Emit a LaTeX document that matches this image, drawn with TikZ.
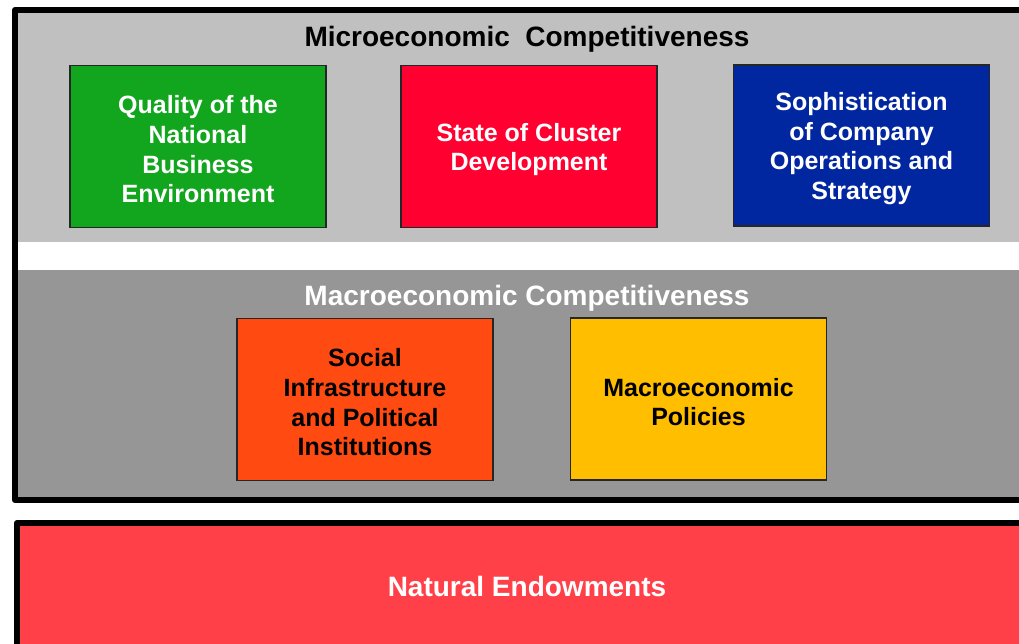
\documentclass[tikz,border=0pt]{standalone}
\usepackage{fontspec}
\setmainfont{Liberation Sans}
\definecolor{lgray}{HTML}{C0C0C0}
\definecolor{dgray}{HTML}{969696}
\definecolor{cgreen}{HTML}{12A61E}
\definecolor{cred}{HTML}{FF0030}
\definecolor{cblue}{HTML}{0026A0}
\definecolor{corange}{HTML}{FF4A12}
\definecolor{cyellow}{HTML}{FFBE00}
\definecolor{cbottom}{HTML}{FF4048}
\tikzset{
  factor/.style={draw=black!85, line width=1.5pt, minimum width=256pt, minimum height=162pt, inner sep=0pt},
  ftext/.style={align=center, inner sep=0pt, yshift=-3pt, font=\fontsize{25}{29.7}\selectfont\bfseries},
  title/.style={font=\fontsize{28}{32}\selectfont\bfseries, inner sep=0pt},
}
\begin{document}
\begin{tikzpicture}[x=1pt,y=-1pt]
\useasboundingbox (0,0) rectangle (1019,643);
\begin{scope}
\clip (0,0) rectangle (1019,643);
% outer frame
\path[fill=lgray] (15,10) rectangle (1040,242);
\path[fill=white] (15,242) rectangle (1040,270);
\path[fill=dgray] (15,270) rectangle (1040,500);
\draw[line width=6pt, line join=round] (15,10) rectangle (1040,500);
% bottom band
\draw[line width=6pt, line join=round, fill=cbottom] (17,523) rectangle (1040,670);
\end{scope}
\node[title] (micro) at (527,39) {Microeconomic\ \ Competitiveness};
\node[title, text=white] (macro) at (527,298) {Macroeconomic Competitiveness};
\node[factor, fill=cgreen, label={[ftext, text=white]center:{Quality of the\\National\\Business\\Environment}}] (qual) at (198,146.5) {};
\node[factor, fill=cred, label={[ftext, text=white]center:{State of Cluster\\Development}}] (clus) at (529,146.5) {};
\node[factor, fill=cblue, minimum height=161pt, label={[ftext, text=white]center:{Sophistication\\of Company\\Operations and\\Strategy}}] (soph) at (861.5,145.5) {};
\node[factor, fill=corange, label={[ftext, text=black]center:{Social\\Infrastructure\\and Political\\Institutions}}] (soc) at (365,399.5) {};
\node[factor, fill=cyellow, label={[ftext, text=black]center:{Macroeconomic\\Policies}}] (pol) at (698.5,399) {};
\node[title, text=white] (nat) at (527,586) {Natural Endowments};
\end{tikzpicture}
\end{document}
